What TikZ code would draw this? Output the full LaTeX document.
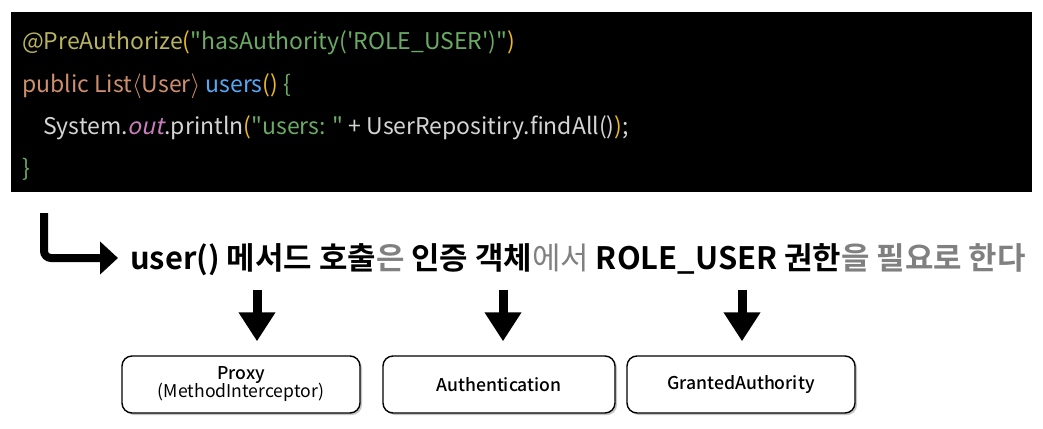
\documentclass[tikz,border=0pt]{standalone}
\usepackage{fontspec}
\setmainfont{Noto Sans CJK KR}[BoldFont={Noto Sans CJK KR Bold}]
\newfontfamily\codefont{Noto Sans CJK KR}
\newfontfamily\codeit{Noto Sans CJK KR}[FakeSlant=0.22]
\newfontfamily\medfont{Noto Sans CJK KR Medium}
\usetikzlibrary{arrows.meta,shadows}
\definecolor{cann}{HTML}{B8B460}
\definecolor{cpar}{HTML}{E8B923}
\definecolor{cstr}{HTML}{6AAA64}
\definecolor{ckey}{HTML}{CF8E6D}
\definecolor{cmeth}{HTML}{56A8F5}
\definecolor{ctxt}{HTML}{D4D4D4}
\definecolor{cpur}{HTML}{C77DBB}
\definecolor{cgray}{HTML}{808080}
\tikzset{
  codeline/.style={anchor=base west, inner sep=0pt, font=\codefont\fontsize{23}{27}\selectfont},
  bigarrow/.style={line width=9pt, -{Triangle[width=35pt,length=29pt]}},
  larrow/.style={line width=8pt, rounded corners=7pt, -{Triangle[width=32pt,length=18pt]}},
  itembox/.style={draw, line width=1.4pt, rounded corners=10pt, fill=white,
    drop shadow={shadow xshift=2pt, shadow yshift=-2pt, opacity=0.45, fill=gray},
    minimum height=57pt, align=center, inner sep=0pt, font=\medfont\fontsize{17.6}{21}\selectfont}
}
\begin{document}
\begin{tikzpicture}[x=1pt,y=-1pt]
\useasboundingbox (0,0) rectangle (1043,428);
\node[fill=black, minimum width=1021pt, minimum height=180pt, inner sep=0pt, anchor=north west] (codebg) at (11,12) {};
\node[codeline] (code1) at (22,50) {\color{cann}@PreAuthorize\color{cpar}(\color{cstr}"hasAuthority('ROLE\_USER')"\color{cpar})};
\node[codeline] (code2) at (22,92) {\color{ckey}public List$\langle$User$\rangle$ \color{cmeth}users\color{cpar}() \color{cstr}\{};
\node[codeline] (code3) at (43,134) {\color{ctxt}System.{\codeit\color{cpur}out}\color{ctxt}.println\color{cpar}(\color{cstr}"users: " \color{ctxt}+ UserRepositiry.findAll()\color{cpar})\color{ctxt};};
\node[codeline] (code4) at (22,176) {\color{cstr}\}};

\node[anchor=base west, inner sep=0pt, font=\fontsize{30.9}{36}\selectfont] (head) at (130,269)
  {\textbf{user() 메서드 호출}\textcolor{cgray}{\textbf{은}} \textbf{인증 객체}\textcolor{cgray}{에서} \textbf{ROLE\_USER 권한}\textcolor{cgray}{\textbf{을 필요로 한다}}};

\coordinate (Lstart) at (44,213);
\coordinate (Lend) at (118,258);
\draw[larrow] (Lstart) |- (Lend);

\node[itembox, minimum width=238pt] (proxy) at (241,384.5) {Proxy\\[-3pt]{\codefont(MethodInterceptor)}};
\node[itembox, minimum width=232pt] (auth) at (499,384.5) {Authentication};
\node[itembox, minimum width=228pt] (granted) at (741,384.5) {GrantedAuthority};

\coordinate (d1) at (257,290);
\coordinate (d2) at (503,290);
\coordinate (d3) at (742,290);
\draw[bigarrow, shorten >=14pt] (d1) -- (d1 |- proxy.north);
\draw[bigarrow, shorten >=14pt] (d2) -- (d2 |- auth.north);
\draw[bigarrow, shorten >=14pt] (d3) -- (d3 |- granted.north);
\end{tikzpicture}
\end{document}
